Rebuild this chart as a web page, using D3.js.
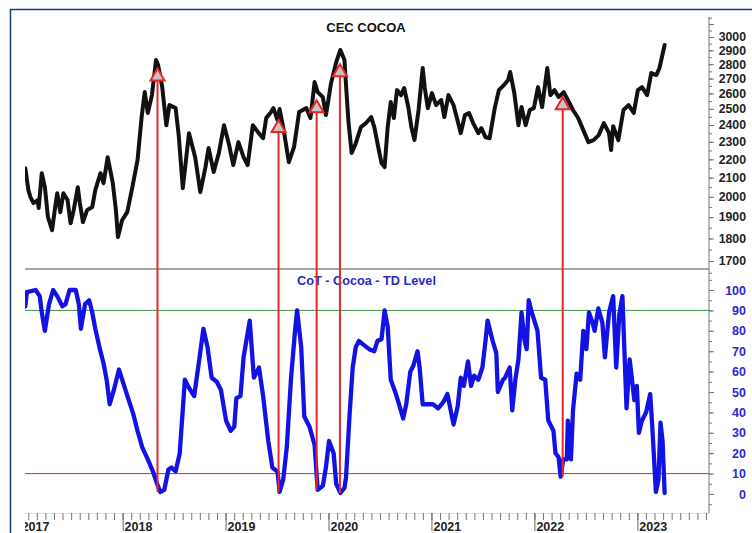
<!DOCTYPE html>
<html>
<head>
<meta charset="utf-8">
<script src="https://cdn.jsdelivr.net/npm/d3@7"></script>
<style>
  body { margin: 0; background: #fff; }
  text { font-family: "Liberation Sans", Arial, sans-serif; font-weight: bold; }
</style>
</head>
<body>
<div id="grafico"></div>
<script>
// precio CEC cocoa (fecha en años decimales, USD/t)
const precio = [
  [2017.05, 2151], [2017.08, 2035], [2017.10, 1999], [2017.13, 1969], [2017.17, 1984], [2017.18, 1944],
  [2017.21, 2124], [2017.24, 2050], [2017.27, 1900], [2017.31, 1838], [2017.34, 1949], [2017.36, 2019],
  [2017.39, 1924], [2017.42, 2019], [2017.46, 1984], [2017.49, 1871], [2017.52, 1934], [2017.56, 2050],
  [2017.58, 1969], [2017.61, 1876], [2017.65, 1934], [2017.70, 1949], [2017.73, 2035], [2017.78, 2124],
  [2017.81, 2071], [2017.85, 2212], [2017.90, 2071], [2017.93, 1934], [2017.95, 1806], [2017.99, 1885],
  [2018.04, 1924], [2018.09, 2050], [2018.14, 2195], [2018.18, 2449], [2018.21, 2609], [2018.24, 2474],
  [2018.28, 2589], [2018.32, 2830], [2018.34, 2794], [2018.38, 2642], [2018.42, 2399], [2018.45, 2524],
  [2018.51, 2505], [2018.54, 2339], [2018.58, 2045], [2018.64, 2351], [2018.70, 2212], [2018.75, 2024],
  [2018.80, 2157], [2018.83, 2264], [2018.88, 2130], [2018.93, 2235], [2018.98, 2399], [2019.03, 2281],
  [2019.07, 2168], [2019.12, 2298], [2019.17, 2212], [2019.21, 2168], [2019.26, 2399], [2019.31, 2357],
  [2019.36, 2321], [2019.39, 2443], [2019.43, 2474], [2019.46, 2505], [2019.50, 2430], [2019.52, 2499],
  [2019.56, 2369], [2019.61, 2184], [2019.66, 2269], [2019.71, 2480], [2019.78, 2505], [2019.82, 2443],
  [2019.86, 2676], [2019.89, 2609], [2019.94, 2576], [2019.97, 2461], [2020.02, 2669], [2020.07, 2815],
  [2020.11, 2903], [2020.15, 2830], [2020.16, 2710], [2020.19, 2412], [2020.22, 2235], [2020.26, 2292],
  [2020.31, 2387], [2020.36, 2412], [2020.41, 2449], [2020.44, 2387], [2020.48, 2264], [2020.51, 2179],
  [2020.54, 2157], [2020.57, 2387], [2020.60, 2544], [2020.63, 2443], [2020.66, 2622], [2020.70, 2589],
  [2020.73, 2636], [2020.77, 2512], [2020.80, 2387], [2020.83, 2310], [2020.87, 2493], [2020.91, 2773],
  [2020.93, 2636], [2020.96, 2505], [2021.00, 2602], [2021.04, 2524], [2021.09, 2557], [2021.12, 2449],
  [2021.16, 2589], [2021.21, 2524], [2021.24, 2449], [2021.28, 2351], [2021.32, 2461], [2021.36, 2474],
  [2021.40, 2412], [2021.45, 2351], [2021.48, 2381], [2021.52, 2327], [2021.56, 2321], [2021.61, 2505],
  [2021.65, 2622], [2021.70, 2656], [2021.74, 2690], [2021.76, 2745], [2021.80, 2602], [2021.84, 2399],
  [2021.87, 2512], [2021.91, 2399], [2021.95, 2493], [2021.99, 2505], [2022.03, 2642], [2022.07, 2512],
  [2022.12, 2773], [2022.15, 2589], [2022.19, 2622], [2022.23, 2576], [2022.28, 2609], [2022.33, 2544],
  [2022.37, 2493], [2022.42, 2443], [2022.47, 2369], [2022.52, 2298], [2022.57, 2310], [2022.62, 2339],
  [2022.67, 2412], [2022.72, 2351], [2022.74, 2252], [2022.76, 2393], [2022.81, 2310], [2022.86, 2493],
  [2022.91, 2524], [2022.96, 2474], [2023.00, 2622], [2023.04, 2642], [2023.09, 2589], [2023.13, 2738],
  [2023.18, 2724], [2023.21, 2773], [2023.26, 2940]
];

// CoT - TD Level (0 a 100)
const cot = [
  [2017.05, 92], [2017.065, 99], [2017.15, 100], [2017.19, 97], [2017.21, 89], [2017.24, 80],
  [2017.28, 93], [2017.32, 100], [2017.36, 97], [2017.41, 92], [2017.44, 93], [2017.48, 100],
  [2017.54, 100], [2017.57, 93], [2017.59, 81], [2017.63, 93], [2017.67, 95], [2017.70, 89],
  [2017.73, 81], [2017.77, 72], [2017.81, 64], [2017.84, 56], [2017.87, 44], [2017.91, 51],
  [2017.96, 61], [2018.01, 53], [2018.055, 46], [2018.10, 39], [2018.14, 31], [2018.185, 23],
  [2018.24, 17], [2018.29, 11], [2018.33, 5], [2018.36, 1], [2018.40, 2], [2018.44, 12],
  [2018.47, 13], [2018.51, 11], [2018.55, 20], [2018.60, 56], [2018.64, 52], [2018.69, 48],
  [2018.74, 66], [2018.78, 81], [2018.82, 72], [2018.86, 57], [2018.91, 55], [2018.95, 51],
  [2019.00, 36], [2019.045, 31], [2019.08, 33], [2019.10, 47], [2019.14, 48], [2019.17, 67],
  [2019.23, 85], [2019.27, 57], [2019.32, 62], [2019.36, 48], [2019.41, 26], [2019.45, 13],
  [2019.50, 11], [2019.52, 1], [2019.555, 7], [2019.59, 23], [2019.63, 56], [2019.67, 80],
  [2019.69, 90], [2019.73, 72], [2019.76, 38], [2019.81, 33], [2019.86, 24], [2019.89, 2],
  [2019.94, 4], [2019.97, 13], [2020.00, 26], [2020.045, 20], [2020.07, 5], [2020.11, 0.5],
  [2020.15, 3], [2020.165, 8], [2020.20, 39], [2020.23, 62], [2020.26, 72], [2020.29, 75],
  [2020.34, 73], [2020.39, 71], [2020.44, 70], [2020.47, 75], [2020.51, 76], [2020.54, 90],
  [2020.57, 82], [2020.60, 56], [2020.65, 49], [2020.68, 44], [2020.72, 37], [2020.75, 44],
  [2020.79, 60], [2020.82, 63], [2020.86, 70], [2020.88, 62], [2020.91, 44], [2020.96, 44],
  [2021.01, 44], [2021.06, 42], [2021.11, 45], [2021.15, 49], [2021.17, 44], [2021.21, 34],
  [2021.25, 43], [2021.28, 57], [2021.31, 53], [2021.35, 65], [2021.38, 53], [2021.41, 58],
  [2021.45, 56], [2021.49, 62], [2021.52, 75], [2021.54, 85], [2021.59, 75], [2021.625, 69],
  [2021.64, 50], [2021.69, 56], [2021.71, 57], [2021.755, 62], [2021.78, 41], [2021.81, 56],
  [2021.84, 66], [2021.87, 89], [2021.90, 75], [2021.92, 71], [2021.94, 95], [2021.97, 89],
  [2022.025, 80], [2022.06, 57], [2022.10, 56], [2022.13, 36], [2022.18, 31], [2022.20, 20],
  [2022.23, 18], [2022.25, 8.5], [2022.275, 17], [2022.31, 17], [2022.32, 36], [2022.35, 17],
  [2022.37, 41], [2022.405, 59], [2022.44, 56], [2022.47, 80], [2022.50, 71], [2022.525, 89],
  [2022.56, 84], [2022.58, 80], [2022.616, 91], [2022.655, 84], [2022.68, 67], [2022.72, 89],
  [2022.76, 97], [2022.79, 62], [2022.82, 88], [2022.85, 97], [2022.89, 42], [2022.92, 66],
  [2022.966, 46], [2022.99, 53], [2023.01, 30], [2023.04, 36], [2023.08, 40], [2023.12, 49],
  [2023.14, 33], [2023.175, 1], [2023.20, 7], [2023.22, 35], [2023.24, 26], [2023.26, 0.5]
];

// flechas: fecha, precio en la punta, nivel CoT abajo
const flechasFecha = [2018.334, 2019.51, 2019.88, 2020.106, 2022.27];
const flechasPrecio = [2770, 2430, 2555, 2800, 2575];
const flechasCot = [1, 1, 2, 0.5, 8.5];

const etiquetasPrecio = d3.range(1700, 3001, 100);
const etiquetasCot = d3.range(0, 101, 10);
const anios = [2017, 2018, 2019, 2020, 2021, 2022, 2023];

const ancho = 752, alto = 533;
const izq = 25, der = 709, arriba = 10, corte = 269, abajo = 513;

const x = d3.scaleLinear().domain([2017.047, 2023.691]).range([izq, der]);
const yPrecio = d3.scaleLog().domain([1700, 3000]).range([261, 37]);
const yCot = d3.scaleLinear().domain([0, 100]).range([494, 290]);

const negro = "#111", azul = "#1212e4", rojo = "#e5262a", verde = "#3c9a3c";

const $svg = d3.select("#grafico")
  .append("svg")
  .attr("width", ancho)
  .attr("height", alto);

const defs = $svg.append("defs");
defs.append("clipPath").attr("id", "clipArriba")
  .append("rect").attr("x", izq).attr("y", arriba).attr("width", der - izq).attr("height", corte - arriba);
defs.append("clipPath").attr("id", "clipAbajo")
  .append("rect").attr("x", izq).attr("y", corte).attr("width", der - izq).attr("height", abajo - corte);
defs.append("clipPath").attr("id", "clipEje")
  .append("rect").attr("x", izq).attr("y", abajo).attr("width", ancho - izq).attr("height", alto - abajo);

// marco azul
$svg.append("path")
  .attr("d", `M10.5,${alto} V9.5 H${ancho}`)
  .attr("fill", "none")
  .attr("stroke", "#1d3a80")
  .attr("stroke-width", 1.5);

// separador entre paneles
$svg.append("line")
  .attr("x1", izq).attr("x2", der).attr("y1", corte).attr("y2", corte)
  .attr("stroke", "#8a8a8a").attr("stroke-width", 1.5);

// lineas 90 y 10
$svg.append("line")
  .attr("x1", izq).attr("x2", der).attr("y1", yCot(90)).attr("y2", yCot(90))
  .attr("stroke", verde).attr("stroke-width", 1);
$svg.append("line")
  .attr("x1", izq).attr("x2", der).attr("y1", yCot(10)).attr("y2", yCot(10))
  .attr("stroke", rojo).attr("stroke-width", 1);

// eje derecho
$svg.append("line")
  .attr("x1", der).attr("x2", der).attr("y1", 17).attr("y2", abajo)
  .attr("stroke", "#777").attr("stroke-width", 1);

const ejePrecioMenor = $svg.append("g")
  .attr("transform", `translate(${der},0)`)
  .call(d3.axisRight(yPrecio).tickValues(d3.range(1650, 3151, 50)).tickSize(3).tickFormat(""));
const ejePrecio = $svg.append("g")
  .attr("transform", `translate(${der},0)`)
  .call(d3.axisRight(yPrecio).tickValues(d3.range(1700, 3101, 100)).tickSize(5).tickFormat(""));
ejePrecio.append("g").selectAll("text")
  .data(etiquetasPrecio)
  .join("text")
  .attr("x", 746 - der)
  .attr("y", d => yPrecio(d))
  .attr("dy", "0.35em")
  .attr("text-anchor", "end")
  .attr("font-size", 12.3)
  .attr("fill", "#222")
  .text(d => d);

const ejeCotMenor = $svg.append("g")
  .attr("transform", `translate(${der},0)`)
  .call(d3.axisRight(yCot).tickValues(d3.range(-5, 106, 5)).tickSize(3).tickFormat(""));
const ejeCot = $svg.append("g")
  .attr("transform", `translate(${der},0)`)
  .call(d3.axisRight(yCot).tickValues(etiquetasCot).tickSize(5).tickFormat(""));
ejeCot.append("g").selectAll("text")
  .data(etiquetasCot)
  .join("text")
  .attr("x", 746 - der)
  .attr("y", d => yCot(d))
  .attr("dy", "0.36em")
  .attr("text-anchor", "end")
  .attr("font-size", 12.5)
  .attr("fill", "#2a2acc")
  .text(d => d);

[ejePrecioMenor, ejePrecio, ejeCotMenor, ejeCot].forEach(g => {
  g.select(".domain").remove();
  g.selectAll(".tick line").attr("stroke", "#777");
});

// eje inferior: meses y años
const meses = d3.range(2017 + 1 / 12, 2023.69, 1 / 12);
const ejeX = $svg.append("g").attr("clip-path", "url(#clipEje)");
ejeX.append("line")
  .attr("x1", izq).attr("x2", der).attr("y1", abajo).attr("y2", abajo)
  .attr("stroke", "#c8c8c8");
ejeX.selectAll(".mes")
  .data(meses)
  .join("line")
  .attr("class", "mes")
  .attr("x1", d => x(d)).attr("x2", d => x(d))
  .attr("y1", abajo).attr("y2", abajo + 7)
  .attr("stroke", "#777");
ejeX.selectAll(".anio")
  .data(anios)
  .join("line")
  .attr("class", "anio")
  .attr("x1", d => x(d)).attr("x2", d => x(d))
  .attr("y1", abajo).attr("y2", abajo + 18)
  .attr("stroke", "#666");
ejeX.selectAll("text")
  .data(anios)
  .join("text")
  .attr("x", d => x(d) + 1.5)
  .attr("y", 531)
  .attr("font-size", 12.5)
  .attr("fill", "#222")
  .text(d => d);

// series
const lineaPrecio = d3.line().x(d => x(d[0])).y(d => yPrecio(d[1]));
const lineaCot = d3.line().x(d => x(d[0])).y(d => yCot(d[1]));

$svg.append("path")
  .datum(precio)
  .attr("clip-path", "url(#clipArriba)")
  .attr("d", lineaPrecio)
  .attr("fill", "none")
  .attr("stroke", negro)
  .attr("stroke-width", 4)
  .attr("stroke-linejoin", "round")
  .attr("stroke-linecap", "round");

$svg.append("path")
  .datum(cot)
  .attr("clip-path", "url(#clipAbajo)")
  .attr("d", lineaCot)
  .attr("fill", "none")
  .attr("stroke", azul)
  .attr("stroke-width", 4.3)
  .attr("stroke-linejoin", "round")
  .attr("stroke-linecap", "round");

// titulos
$svg.append("text")
  .attr("x", 366).attr("y", 31.5)
  .attr("text-anchor", "middle")
  .attr("font-size", 13)
  .attr("fill", "#111")
  .text("CEC COCOA");
$svg.append("text")
  .attr("x", 366.5).attr("y", 285)
  .attr("text-anchor", "middle")
  .attr("font-size", 12.7)
  .attr("fill", "#2a2acc")
  .text("CoT - Cocoa - TD Level");

// flechas rojas
const flechas = flechasFecha.map((f, i) => ({ fecha: f, precio: flechasPrecio[i], nivel: flechasCot[i] }));
$svg.selectAll(".flecha")
  .data(flechas)
  .join("line")
  .attr("class", "flecha")
  .attr("x1", d => x(d.fecha)).attr("x2", d => x(d.fecha))
  .attr("y1", d => yCot(d.nivel)).attr("y2", d => yPrecio(d.precio) + 6)
  .attr("stroke", rojo)
  .attr("stroke-width", 2);

$svg.selectAll(".punta")
  .data(flechas)
  .join("path")
  .attr("class", "punta")
  .attr("d", d => {
    const px = x(d.fecha), py = yPrecio(d.precio);
    return `M${px},${py} L${px + 7},${py + 12} L${px - 7},${py + 12} Z`;
  })
  .attr("fill", "#c9c4c4")
  .attr("stroke", rojo)
  .attr("stroke-width", 2)
  .attr("stroke-linejoin", "miter");
</script>
</body>
</html>
